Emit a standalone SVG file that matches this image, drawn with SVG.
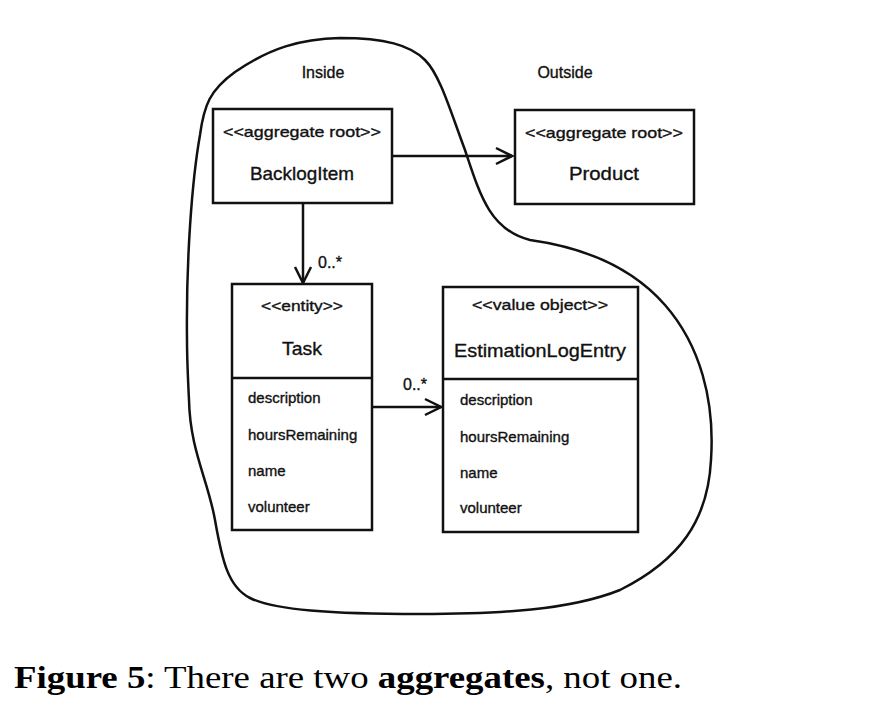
<svg xmlns="http://www.w3.org/2000/svg" width="878" height="704" viewBox="0 0 878 704">
<defs>
<style>
.box{fill:#fff;stroke:#111;stroke-width:2.5}
.ln{fill:none;stroke:#111;stroke-width:2.5}
.blob{fill:none;stroke:#111;stroke-width:2.5}
.t{font-family:"Liberation Sans Narrow","Liberation Sans",sans-serif;fill:#111;stroke:#111;stroke-width:0.35}
.st{font-size:15px;text-anchor:middle}
.nm{font-size:19px;text-anchor:middle}
.at{font-size:15px}
.lb{font-size:16px}
.cap{font-family:"Liberation Serif","Times New Roman",serif;font-size:32px;fill:#000}
</style>
<marker id="arr" viewBox="0 0 20 20" refX="18" refY="10" markerWidth="20" markerHeight="20" markerUnits="userSpaceOnUse" orient="auto">
<path d="M2,2 L18,10 L2,18" fill="none" stroke="#111" stroke-width="2.5"/>
</marker>
</defs>
<rect width="878" height="704" fill="#fff"/>
<g id="aggregate-boundary">
<path class="blob" d="M187,340 C186,260 192,180 200,135 C204,105 210,90 235,72 C270,48 300,39 340,38 C385,38 410,45 425,60 C440,75 450,110 465,150 C480,195 490,230 530,240 C580,247 630,265 665,305 C700,345 715,400 711,460 C708,520 680,560 620,590 C570,610 500,614 420,614 C330,614 275,610 250,598 C228,587 222,560 215,520 C208,480 190,450 189,400 C188,380 187,360 187,340 Z"/>
<text class="t lb" x="323" y="78" text-anchor="middle">Inside</text>
<text class="t lb" x="565" y="78" text-anchor="middle">Outside</text>
</g>
<g id="connectors">
<line class="ln" x1="392" y1="156" x2="512" y2="156" marker-end="url(#arr)"/>
<line class="ln" x1="303" y1="203" x2="303" y2="283" marker-end="url(#arr)"/>
<text class="t lb" x="318" y="268">0..*</text>
<line class="ln" x1="372" y1="407" x2="441" y2="407" marker-end="url(#arr)"/>
<text class="t lb" x="403" y="390">0..*</text>
</g>
<g id="BacklogItem">
<rect class="box" x="213" y="109" width="179" height="94"/>
<text class="t st" x="302" y="137" textLength="158" lengthAdjust="spacingAndGlyphs">&lt;&lt;aggregate root&gt;&gt;</text>
<text class="t nm" x="302" y="180" textLength="104" lengthAdjust="spacingAndGlyphs">BacklogItem</text>
</g>
<g id="Product">
<rect class="box" x="515" y="110" width="179" height="94"/>
<text class="t st" x="604" y="138" textLength="158" lengthAdjust="spacingAndGlyphs">&lt;&lt;aggregate root&gt;&gt;</text>
<text class="t nm" x="604" y="180" textLength="70" lengthAdjust="spacingAndGlyphs">Product</text>
</g>
<g id="Task">
<rect class="box" x="232" y="284" width="140" height="246"/>
<line class="ln" x1="232" y1="378" x2="372" y2="378"/>
<text class="t st" x="302" y="311" textLength="82" lengthAdjust="spacingAndGlyphs">&lt;&lt;entity&gt;&gt;</text>
<text class="t nm" x="302" y="355" textLength="40" lengthAdjust="spacingAndGlyphs">Task</text>
<text class="t at" x="248" y="403">description</text>
<text class="t at" x="248" y="440">hoursRemaining</text>
<text class="t at" x="248" y="476">name</text>
<text class="t at" x="248" y="512">volunteer</text>
</g>
<g id="EstimationLogEntry">
<rect class="box" x="443" y="287" width="195" height="245"/>
<line class="ln" x1="443" y1="379" x2="638" y2="379"/>
<text class="t st" x="540" y="310" textLength="136" lengthAdjust="spacingAndGlyphs">&lt;&lt;value object&gt;&gt;</text>
<text class="t nm" x="540" y="357" textLength="172" lengthAdjust="spacingAndGlyphs">EstimationLogEntry</text>
<text class="t at" x="460" y="405">description</text>
<text class="t at" x="460" y="442">hoursRemaining</text>
<text class="t at" x="460" y="478">name</text>
<text class="t at" x="460" y="513">volunteer</text>
</g>
<g id="caption">
<text class="cap" x="14" y="688" textLength="668" lengthAdjust="spacingAndGlyphs"><tspan font-weight="bold">Figure 5</tspan>: There are two <tspan font-weight="bold">aggregates</tspan>, not one.</text>
</g>
</svg>
